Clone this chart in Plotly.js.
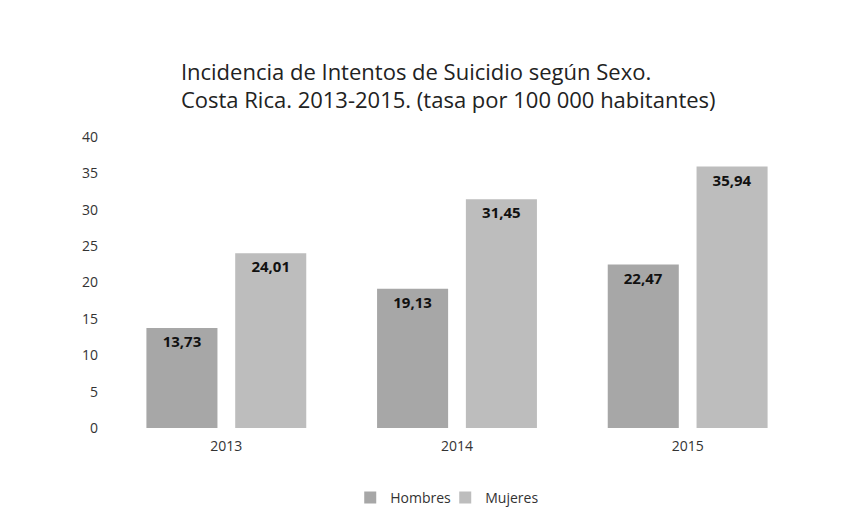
<!DOCTYPE html>
<html><head><meta charset="utf-8">
<script src="https://cdn.plot.ly/plotly-3.0.1.min.js"></script>
<style>body{margin:0;background:#fff}#c{width:841px;height:529px}</style>
</head><body><div id="c"></div>
<script>
const years = ['2013', '2014', '2015'];
const hombres = [13.73, 19.13, 22.47];
const mujeres = [24.01, 31.45, 35.94];
const fmt = v => '<br>' + v.toFixed(2).replace('.', ',');
const font = 'Open Sans, Noto Sans, sans-serif';
const data = [
  {type:'bar', name:'Hombres', x:years, y:hombres, text:hombres.map(fmt),
   textposition:'inside', insidetextanchor:'end', textangle:0,
   textfont:{family:font, size:15, color:'#111', weight:'bold'},
   marker:{color:'#a7a7a7'}},
  {type:'bar', name:'Mujeres', x:years, y:mujeres, text:mujeres.map(fmt),
   textposition:'inside', insidetextanchor:'end', textangle:0,
   textfont:{family:font, size:15, color:'#111', weight:'bold'},
   marker:{color:'#bdbdbd'}}
];
const layout = {
  width:841, height:529,
  margin:{l:111, r:38, t:137, b:101},
  paper_bgcolor:'#fff', plot_bgcolor:'#fff',
  font:{family:font, size:13, color:'#333'},
  title:{text:'Incidencia de Intentos de Suicidio según Sexo.<br>Costa Rica. 2013-2015. (tasa por 100 000 habitantes)',
    font:{family:font, size:22, color:'#222'}, x:0.101, xanchor:'left', xref:'paper', y:0.849, yanchor:'middle'},
  barmode:'group', bargap:0.23, bargroupgap:0.2,
  xaxis:{type:'category', showline:false, ticks:'', tickfont:{size:14, color:'#333'}, ticklabelstandoff:8},
  yaxis:{range:[0,40], dtick:5, showgrid:false, zeroline:false, ticks:'', tickfont:{size:14, color:'#333'}, ticklabelstandoff:12},
  legend:{orientation:'h', x:0.483, xanchor:'center', y:-0.24, yanchor:'middle', font:{size:14, color:'#333'},
    itemwidth:30, entrywidth:50, entrywidthmode:'pixels'},
  showlegend:true
};
Plotly.newPlot('c', data, layout, {displayModeBar:false});
</script></body></html>
